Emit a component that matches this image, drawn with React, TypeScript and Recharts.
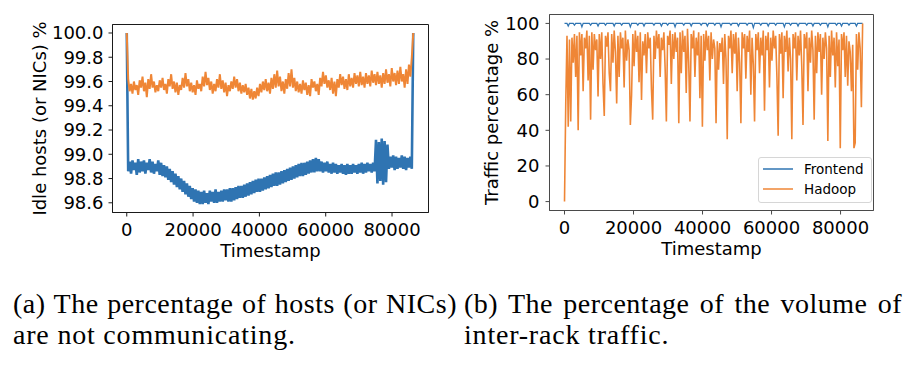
import { LineChart, Line, XAxis, YAxis, Legend, ReferenceArea } from "recharts";

const BLUE = "#2f74b2";
const ORANGE = "#ef8636";
const FONT = "DejaVu Sans";

// (a) idle hosts, one sample every 432 s over a day
const IDLE_STEP = 432;
const idleFrontend = [
  100.0,
  98.86, 98.94, 98.84, 98.95, 98.87, 98.93, 98.83, 98.96, 98.85, 98.94,
  98.86, 98.95, 98.84, 98.93, 98.87, 98.96, 98.85, 98.94, 98.84, 98.92,
  98.86, 98.95, 98.83,
  98.93, 98.82, 98.91, 98.81, 98.9, 98.79, 98.88, 98.77, 98.86, 98.75,
  98.84, 98.73, 98.82, 98.71, 98.8, 98.69, 98.78, 98.67, 98.76, 98.65,
  98.74, 98.63, 98.72, 98.61, 98.71, 98.6, 98.7, 98.59,
  98.69, 98.59, 98.7, 98.6, 98.68, 98.59, 98.7, 98.61, 98.69, 98.6,
  98.71, 98.6, 98.69, 98.61, 98.7, 98.61, 98.71, 98.62,
  98.71, 98.61, 98.72, 98.61, 98.72, 98.62, 98.73, 98.63, 98.74, 98.64,
  98.74, 98.64, 98.75, 98.65, 98.76, 98.66, 98.77, 98.67, 98.78, 98.68,
  98.79, 98.69, 98.8,
  98.69, 98.8, 98.7, 98.81, 98.71, 98.82, 98.72, 98.83, 98.73, 98.84,
  98.74, 98.85,
  98.74, 98.85, 98.75, 98.86, 98.76, 98.87, 98.77, 98.88, 98.78, 98.89,
  98.79,
  98.9, 98.8, 98.91, 98.81, 98.92, 98.82, 98.93, 98.82, 98.93,
  98.83, 98.94, 98.84, 98.95, 98.85, 98.96, 98.85, 98.97, 98.86, 98.96,
  98.86, 98.94, 98.85, 98.93, 98.86, 98.94, 98.85, 98.92, 98.84, 98.93,
  98.85, 98.92, 98.84, 98.91, 98.85, 98.92, 98.84, 98.91, 98.83, 98.92,
  98.84, 98.91, 98.84, 98.92, 98.85, 98.91, 98.84, 98.92, 98.85, 98.93,
  98.84, 98.92, 98.85, 98.93, 98.86, 98.92, 98.85, 98.93, 98.86,
  99.12, 98.76, 99.1, 98.78, 99.13, 98.75, 99.11, 98.77, 99.08,
  98.88, 98.98, 98.89, 98.99, 98.87, 98.98, 98.88, 98.97, 98.89, 98.99,
  98.88, 98.98, 98.87, 98.97, 98.89, 98.98, 98.88,
  100.0,
];
const idleHadoop = [
  100.0,
  99.62, 99.52, 99.58, 99.5, 99.6, 99.53, 99.57, 99.49, 99.61, 99.55,
  99.64, 99.52, 99.59, 99.47, 99.62, 99.54, 99.66, 99.55, 99.6, 99.51,
  99.57, 99.52, 99.61, 99.55, 99.63, 99.53, 99.58, 99.5, 99.62, 99.56,
  99.66, 99.54, 99.6, 99.51, 99.59, 99.49, 99.57, 99.53, 99.63, 99.55,
  99.67, 99.56, 99.62, 99.52, 99.59, 99.51, 99.57, 99.49, 99.61, 99.54,
  99.58, 99.52, 99.64, 99.56, 99.68, 99.57, 99.63, 99.53, 99.6, 99.5,
  99.58, 99.52, 99.62, 99.55, 99.66, 99.54, 99.61, 99.51, 99.59, 99.48,
  99.57, 99.52, 99.6, 99.54, 99.64, 99.55, 99.62, 99.52, 99.59, 99.5,
  99.57, 99.51, 99.58, 99.49, 99.55, 99.46, 99.54, 99.45, 99.52, 99.46,
  99.55, 99.48, 99.58, 99.51, 99.6, 99.53, 99.62, 99.52, 99.59, 99.5,
  99.63, 99.54, 99.66, 99.55, 99.69, 99.56, 99.64, 99.52, 99.6, 99.5,
  99.62, 99.54, 99.67, 99.56, 99.7, 99.55, 99.63, 99.52, 99.6, 99.51,
  99.58, 99.5, 99.61, 99.53, 99.59, 99.49, 99.57, 99.48, 99.62, 99.55,
  99.6, 99.52, 99.58, 99.49, 99.63, 99.56, 99.68, 99.58, 99.65, 99.55,
  99.61, 99.53, 99.63, 99.5, 99.6, 99.48, 99.62, 99.55, 99.66, 99.57,
  99.64, 99.54, 99.62, 99.53, 99.66, 99.56, 99.63, 99.55, 99.67, 99.58,
  99.65, 99.56, 99.68, 99.57, 99.64, 99.55, 99.67, 99.58, 99.65, 99.56,
  99.69, 99.59, 99.66, 99.57, 99.68, 99.58, 99.65, 99.55, 99.67, 99.58,
  99.7, 99.59, 99.66, 99.56, 99.71, 99.6, 99.67, 99.57, 99.69, 99.58,
  99.72, 99.6, 99.66, 99.55, 99.7, 99.58, 99.74, 99.64, 99.8,
  100.0,
];
const idleTicks = [98.6, 98.8, 99.0, 99.2, 99.4, 99.6, 99.8, 100.0];
const timeTicks = [0, 20000, 40000, 60000, 80000];

// (b) inter-rack traffic share, one sample every 360 s
const TRAFFIC_STEP = 360;
const trafficHadoop = [
  0,
  55, 93, 42, 91, 45, 92, 78, 94, 70, 93, 40, 95, 82, 94, 62, 92, 86, 96, 68, 93,
  46, 95, 74, 94, 85, 91, 59, 94, 80, 95, 66, 48, 93, 87, 95, 72, 62, 94, 78, 96,
  84, 55, 93, 70, 95, 86, 92, 64, 96, 79, 91, 85, 43, 60, 94, 76, 96, 84, 93, 67,
  95, 57, 90, 82, 94, 72, 95, 86, 92, 63, 46, 93, 80, 96, 86, 94, 70, 92, 85, 95,
  75, 45, 93, 88, 96, 66, 94, 80, 95, 84, 92, 44, 95, 72, 96, 84, 93, 61, 97, 78,
  45, 94, 86, 96, 70, 92, 82, 95, 58, 93, 42, 94, 79, 96, 85, 93, 68, 95, 80, 91,
  86, 44, 90, 74, 89, 84, 92, 66, 94, 80, 35, 93, 86, 96, 72, 94, 83, 95, 62, 92,
  78, 44, 95, 86, 94, 69, 93, 84, 96, 60, 92, 77, 45, 94, 85, 95, 72, 92, 82, 96,
  51, 93, 85, 95, 64, 92, 79, 96, 86, 93, 70, 37, 94, 83, 95, 58, 93, 84, 96, 73,
  92, 80, 35, 94, 86, 95, 68, 93, 82, 96, 76, 43, 94, 86, 95, 62, 92, 78, 96, 85,
  46, 93, 72, 95, 84, 94, 60, 92, 80, 95, 86, 34, 93, 70, 96, 82, 92, 64, 95, 76,
  91, 30, 94, 85, 95, 70, 93, 65, 90, 84, 62, 88, 30, 33, 94, 74, 95, 86, 53, 100,
];
const trafficFrontend = [
  100, 100, 100, 98.5, 100, 100, 100, 100, 99, 100, 100, 100, 100, 100, 98, 100, 100, 100, 100, 100,
  100, 99, 100, 100, 100, 100, 100, 98.5, 100, 100, 100, 100, 100, 99, 100, 100, 100, 100, 100, 100,
  98.5, 100, 100, 100, 100, 100, 99, 100, 100, 100, 100, 100, 100, 98, 100, 100, 100, 100, 100, 99,
  100, 100, 100, 100, 98.5, 100, 100, 100, 100, 100, 100, 100, 99, 100, 100, 100, 100, 100, 98.5, 100,
  100, 100, 100, 99, 100, 100, 100, 100, 100, 98, 100, 100, 100, 100, 100, 100, 99, 100, 100, 100,
  100, 100, 98.5, 100, 100, 100, 100, 100, 100, 100, 99, 100, 100, 100, 100, 98.5, 100, 100, 100, 100,
  100, 99, 100, 100, 100, 100, 98, 100, 100, 100, 100, 100, 100, 100, 99, 100, 100, 100, 100, 100,
  98.5, 100, 100, 100, 100, 100, 100, 99, 100, 100, 100, 100, 97.5, 100, 100, 100, 100, 100, 99, 100,
  100, 100, 100, 100, 98.5, 100, 100, 100, 100, 100, 99, 100, 100, 100, 100, 100, 100, 98, 100, 100,
  100, 100, 99, 100, 100, 100, 100, 100, 98.5, 100, 100, 100, 100, 100, 100, 99, 100, 100, 100, 100,
  98.5, 100, 100, 100, 100, 100, 99, 100, 100, 100, 100, 100, 98, 100, 100, 100, 100, 100, 100, 99,
  100, 100, 100, 98.5, 100, 100, 100, 100, 100, 99, 100, 100, 100, 100, 100, 98.5, 100, 100, 100, 100,
  100,
];
const trafficTicks = [0, 20, 40, 60, 80, 100];

const IDLE_X: [number, number] = [-4300, 91000];
const IDLE_Y: [number, number] = [98.52, 100.07];
const TRAFFIC_X: [number, number] = [-4350, 89550];
const TRAFFIC_Y: [number, number] = [-5, 105];

const idleData = idleFrontend.map((v, i) => ({
  t: i * IDLE_STEP,
  frontend: v,
  hadoop: idleHadoop[i],
}));
const trafficData = trafficHadoop.map((v, i) => ({
  t: i * TRAFFIC_STEP,
  frontend: trafficFrontend[i],
  hadoop: v,
}));

const tickStyle = { fill: "#000", fontSize: 18, fontFamily: FONT };

const yLabel = (text: string, dx: number) => (props: any) => {
  const vb = props.viewBox;
  const x = vb.x + dx;
  const y = vb.y + vb.height / 2;
  return (
    <text
      x={x}
      y={y}
      transform={`rotate(-90 ${x} ${y})`}
      textAnchor="middle"
      fontSize={18}
      fontFamily={FONT}
      fill="#000"
    >
      {text}
    </text>
  );
};

const xLabel = (props: any) => {
  const vb = props.viewBox;
  return (
    <text
      x={vb.x + vb.width / 2}
      y={vb.y + 44}
      textAnchor="middle"
      fontSize={18}
      fontFamily={FONT}
      fill="#000"
    >
      Timestamp
    </text>
  );
};

const LegendBox = (props: any) => {
  const { payload } = props;
  return (
    <div
      style={{
        border: "1px solid #d6d6d6",
        borderRadius: 3,
        background: "rgba(255,255,255,0.85)",
        padding: "1px 4px 3px 4px",
        fontFamily: FONT,
        fontSize: 13.5,
        color: "#000",
      }}
    >
      {(payload || []).map((entry: any) => (
        <div
          key={entry.value}
          style={{ display: "flex", alignItems: "center", height: 20 }}
        >
          <svg width={30} height={4}>
            <line x1={0} y1={2} x2={30} y2={2} stroke={entry.color} strokeWidth={1.5} />
          </svg>
          <span style={{ marginLeft: 11, lineHeight: "20px" }}>{entry.value}</span>
        </div>
      ))}
    </div>
  );
};

function IdleChart() {
  const frame = "#1a1a1a";
  return (
    <LineChart
      width={440}
      height={270}
      data={idleData}
      margin={{ top: 24.5, right: 11.5, bottom: 17.5, left: 0.5 }}
    >
      <XAxis
        dataKey="t"
        type="number"
        domain={IDLE_X}
        ticks={timeTicks}
        interval={0}
        allowDataOverflow
        height={40}
        tick={tickStyle}
        tickSize={4}
        tickMargin={7}
        axisLine={{ stroke: frame }}
        tickLine={{ stroke: frame }}
        label={xLabel}
      />
      <YAxis
        type="number"
        domain={IDLE_Y}
        ticks={idleTicks}
        interval={0}
        allowDataOverflow
        width={112}
        tick={tickStyle}
        tickSize={4}
        tickMargin={5}
        tickFormatter={(v: number) => v.toFixed(1)}
        axisLine={{ stroke: frame }}
        tickLine={{ stroke: frame }}
        label={yLabel("Idle hosts (or NICs) %", 45)}
      />
      <ReferenceArea
        x1={IDLE_X[0]}
        x2={IDLE_X[1]}
        y1={IDLE_Y[0]}
        y2={IDLE_Y[1]}
        fill="none"
        fillOpacity={0}
        stroke={frame}
        strokeWidth={1}
      />
      <Line
        type="linear"
        dataKey="frontend"
        name="Frontend"
        stroke={BLUE}
        strokeWidth={2.6}
        dot={false}
        isAnimationActive={false}
      />
      <Line
        type="linear"
        dataKey="hadoop"
        name="Hadoop"
        stroke={ORANGE}
        strokeWidth={2}
        dot={false}
        isAnimationActive={false}
      />
    </LineChart>
  );
}

function TrafficChart() {
  const frame = "#4a4a4a";
  return (
    <LineChart
      width={440}
      height={270}
      data={trafficData}
      margin={{ top: 14.5, right: 26.5, bottom: 19.5, left: 0.5 }}
    >
      <XAxis
        dataKey="t"
        type="number"
        domain={TRAFFIC_X}
        ticks={timeTicks}
        interval={0}
        allowDataOverflow
        height={40}
        tick={tickStyle}
        tickSize={4}
        tickMargin={7}
        axisLine={{ stroke: frame }}
        tickLine={{ stroke: frame }}
        label={xLabel}
      />
      <YAxis
        type="number"
        domain={TRAFFIC_Y}
        ticks={trafficTicks}
        interval={0}
        allowDataOverflow
        width={89}
        tick={tickStyle}
        tickSize={4}
        tickMargin={6}
        axisLine={{ stroke: frame }}
        tickLine={{ stroke: frame }}
        label={yLabel("Traffic percentage %", 37)}
      />
      <ReferenceArea
        x1={TRAFFIC_X[0]}
        x2={TRAFFIC_X[1]}
        y1={TRAFFIC_Y[0]}
        y2={TRAFFIC_Y[1]}
        fill="none"
        fillOpacity={0}
        stroke={frame}
        strokeWidth={1}
      />
      <Line
        type="linear"
        dataKey="frontend"
        name="Frontend"
        stroke={BLUE}
        strokeWidth={1.2}
        dot={false}
        isAnimationActive={false}
      />
      <Line
        type="linear"
        dataKey="hadoop"
        name="Hadoop"
        stroke={ORANGE}
        strokeWidth={1.6}
        dot={false}
        isAnimationActive={false}
      />
      <Legend
        layout="vertical"
        align="center"
        verticalAlign="middle"
        width={114}
        content={LegendBox}
        wrapperStyle={{ left: 298, top: 157, width: 114 }}
      />
    </LineChart>
  );
}

const captionFont = {
  fontFamily: "'Liberation Serif', 'Times New Roman', serif",
  fontSize: 28,
  letterSpacing: "0.8px",
  lineHeight: "31px",
  color: "#000",
  whiteSpace: "nowrap" as const,
};

function Caption({ left, width, first, second }: { left: number; width: number; first: string; second: string }) {
  return (
    <div style={{ position: "absolute", left, top: 288, width, ...captionFont }}>
      <div style={{ textAlign: "justify", textAlignLast: "justify", letterSpacing: "0.5px" }}>{first}</div>
      <div>{second}</div>
    </div>
  );
}

export default function App() {
  return (
    <div
      style={{
        position: "absolute",
        left: 0,
        top: 0,
        width: 910,
        height: 368,
        background: "#fff",
        overflow: "hidden",
      }}
    >
      <div style={{ position: "absolute", left: 0, top: 0 }}>
        <IdleChart />
      </div>
      <div style={{ position: "absolute", left: 460, top: 0 }}>
        <TrafficChart />
      </div>
      <Caption
        left={13}
        width={444}
        first="(a) The percentage of hosts (or NICs)"
        second="are not communicating."
      />
      <Caption
        left={464}
        width={438}
        first="(b) The percentage of the volume of"
        second="inter-rack traffic."
      />
    </div>
  );
}
